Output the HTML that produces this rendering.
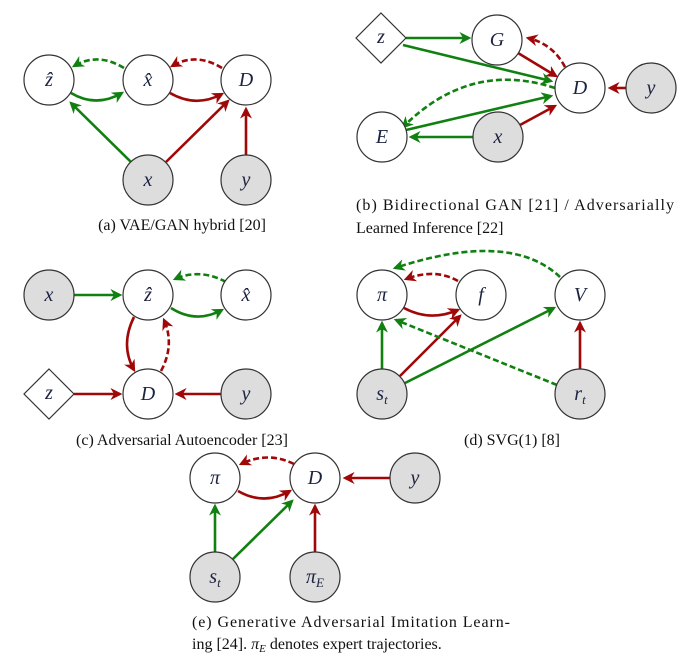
<!DOCTYPE html>
<html><head><meta charset="utf-8">
<style>
html,body{margin:0;padding:0;background:#fff;}
svg{display:block;}
.n{fill:#fff;stroke:#333;stroke-width:1.2;}
.o{fill:#dddddd;stroke:#333;stroke-width:1.2;}
.g{stroke:#108010;stroke-width:2.6;fill:none;}
.r{stroke:#a00808;stroke-width:2.6;fill:none;}
.d{stroke-dasharray:6,3;}
.l{font-family:"Liberation Serif","DejaVu Serif",serif;font-style:italic;font-size:20px;fill:#1c2340;text-anchor:middle;dominant-baseline:central;}
.c{font-family:"Liberation Serif","DejaVu Serif",serif;font-size:16px;fill:#111;}
</style></head><body>
<svg width="694" height="662" viewBox="0 0 694 662" xmlns="http://www.w3.org/2000/svg">
<defs>
<marker id="ag" viewBox="0 0 10 10" refX="8" refY="5" markerWidth="4.6" markerHeight="4.6" orient="auto-start-reverse" markerUnits="strokeWidth"><path d="M0,0 L10,5 L0,10 L3,5 z" fill="#108010"/></marker>
<marker id="ar" viewBox="0 0 10 10" refX="8" refY="5" markerWidth="4.6" markerHeight="4.6" orient="auto-start-reverse" markerUnits="strokeWidth"><path d="M0,0 L10,5 L0,10 L3,5 z" fill="#a00808"/></marker>
</defs>

<!-- (a) -->
<path class="g d" d="M124,68 Q98,52 74,66" marker-end="url(#ag)"/>
<path class="g" d="M71,93 Q96,108 122,93" marker-end="url(#ag)"/>
<path class="r d" d="M222,68 Q196,52 172,66" marker-end="url(#ar)"/>
<path class="r" d="M170,93 Q196,108 222,94" marker-end="url(#ar)"/>
<path class="g" d="M131,162 L71,103" marker-end="url(#ag)"/>
<path class="r" d="M166,162 L228,101" marker-end="url(#ar)"/>
<path class="r" d="M246,155 L246,109" marker-end="url(#ar)"/>
<circle class="n" cx="49" cy="80" r="25"/><text class="l" x="49" y="80">ẑ</text>
<circle class="n" cx="148" cy="80" r="25"/><text class="l" x="148" y="80">x̂</text>
<circle class="n" cx="246" cy="80" r="25"/><text class="l" x="246" y="80">D</text>
<circle class="o" cx="148" cy="180" r="25"/><text class="l" x="148" y="180">x</text>
<circle class="o" cx="246" cy="180" r="25"/><text class="l" x="246" y="180">y</text>
<text class="c" x="182" y="230" text-anchor="middle">(a) VAE/GAN hybrid [20]</text>

<!-- (b) -->
<path class="g" d="M406,38 L469,38" marker-end="url(#ag)"/>
<path class="g" d="M403,45 L551,81" marker-end="url(#ag)"/>
<path class="r" d="M518,53 L556,76" marker-end="url(#ar)"/>
<path class="r d" d="M565,67 Q553,44 528,38" marker-end="url(#ar)"/>
<path class="r" d="M626,88 L610,88" marker-end="url(#ar)"/>
<path class="g d" d="M555,88 Q470,60 403,127" marker-end="url(#ag)"/>
<path class="g" d="M406,130 L551,96" marker-end="url(#ag)"/>
<path class="g" d="M473,137 L411,137" marker-end="url(#ag)"/>
<path class="r" d="M520,125 L555,106" marker-end="url(#ar)"/>
<polygon class="n" points="381,13 406,38 381,63 356,38"/><text class="l" x="381" y="37">z</text>
<circle class="n" cx="497" cy="40" r="25"/><text class="l" x="497" y="40">G</text>
<circle class="n" cx="580" cy="88" r="25"/><text class="l" x="580" y="88">D</text>
<circle class="o" cx="651" cy="88" r="25"/><text class="l" x="651" y="88">y</text>
<circle class="n" cx="382" cy="137" r="25"/><text class="l" x="382" y="137">E</text>
<circle class="o" cx="498" cy="137" r="25"/><text class="l" x="498" y="137">x</text>
<text class="c" x="356" y="210" textLength="318" lengthAdjust="spacing">(b) Bidirectional GAN [21] / Adversarially</text>
<text class="c" x="356" y="233">Learned Inference [22]</text>

<!-- (c) -->
<path class="g" d="M74,295 L120,295" marker-end="url(#ag)"/>
<path class="g d" d="M226,282 Q200,268 175,279" marker-end="url(#ag)"/>
<path class="g" d="M171,308 Q196,324 222,310" marker-end="url(#ag)"/>
<path class="r" d="M134,317 Q120,345 134,370" marker-end="url(#ar)"/>
<path class="r d" d="M161,371 Q175,345 164,320" marker-end="url(#ar)"/>
<path class="r" d="M74,394 L120,394" marker-end="url(#ar)"/>
<path class="r" d="M221,394 L177,394" marker-end="url(#ar)"/>
<circle class="o" cx="49" cy="295" r="25"/><text class="l" x="49" y="295">x</text>
<circle class="n" cx="148" cy="295" r="25"/><text class="l" x="148" y="295">ẑ</text>
<circle class="n" cx="246" cy="295" r="25"/><text class="l" x="246" y="295">x̂</text>
<polygon class="n" points="49,369 74,394 49,419 24,394"/><text class="l" x="49" y="393">z</text>
<circle class="n" cx="148" cy="394" r="25"/><text class="l" x="148" y="394">D</text>
<circle class="o" cx="246" cy="394" r="25"/><text class="l" x="246" y="394">y</text>
<text class="c" x="182" y="445" text-anchor="middle">(c) Adversarial Autoencoder [23]</text>

<!-- (d) -->
<path class="g d" d="M560,277 Q510,230 395,268" marker-end="url(#ag)"/>
<path class="r d" d="M458,281 Q435,268 406,279" marker-end="url(#ar)"/>
<path class="r" d="M404,308 Q430,322 458,310" marker-end="url(#ar)"/>
<path class="g" d="M382,369 L382,323" marker-end="url(#ag)"/>
<path class="r" d="M400,376 L460,316" marker-end="url(#ar)"/>
<path class="g" d="M405,383 L554,308" marker-end="url(#ag)"/>
<path class="g d" d="M557,385 L396,320" marker-end="url(#ag)"/>
<path class="r" d="M580,369 L580,323" marker-end="url(#ar)"/>
<circle class="n" cx="382" cy="295" r="25"/><text class="l" x="382" y="295">π</text>
<circle class="n" cx="481" cy="295" r="25"/><text class="l" x="481" y="295">f</text>
<circle class="n" cx="580" cy="295" r="25"/><text class="l" x="580" y="295">V</text>
<circle class="o" cx="382" cy="394" r="25"/><text class="l" x="382" y="394">s<tspan font-size="13" dy="5">t</tspan></text>
<circle class="o" cx="580" cy="394" r="25"/><text class="l" x="580" y="394">r<tspan font-size="13" dy="5">t</tspan></text>
<text class="c" x="512" y="445" text-anchor="middle">(d) SVG(1) [8]</text>

<!-- (e) -->
<path class="r d" d="M294,464 Q268,451 241,464" marker-end="url(#ar)"/>
<path class="r" d="M238,491 Q264,506 290,491" marker-end="url(#ar)"/>
<path class="r" d="M390,478 L345,478" marker-end="url(#ar)"/>
<path class="g" d="M215,552 L215,506" marker-end="url(#ag)"/>
<path class="g" d="M233,559 L292,501" marker-end="url(#ag)"/>
<path class="r" d="M315,552 L315,506" marker-end="url(#ar)"/>
<circle class="n" cx="215" cy="478" r="25"/><text class="l" x="215" y="478">π</text>
<circle class="n" cx="315" cy="478" r="25"/><text class="l" x="315" y="478">D</text>
<circle class="o" cx="415" cy="478" r="25"/><text class="l" x="415" y="478">y</text>
<circle class="o" cx="215" cy="577" r="25"/><text class="l" x="215" y="577">s<tspan font-size="13" dy="5">t</tspan></text>
<circle class="o" cx="315" cy="577" r="25"/><text class="l" x="315" y="577">π<tspan font-size="13" dy="5">E</tspan></text>
<text class="c" x="192" y="627" textLength="318" lengthAdjust="spacing">(e) Generative Adversarial Imitation Learn-</text>
<text class="c" x="192" y="649">ing [24]. <tspan font-style="italic">π<tspan font-size="11" dy="3">E</tspan></tspan><tspan dy="-3"> denotes expert trajectories.</tspan></text>
</svg>
</body></html>
